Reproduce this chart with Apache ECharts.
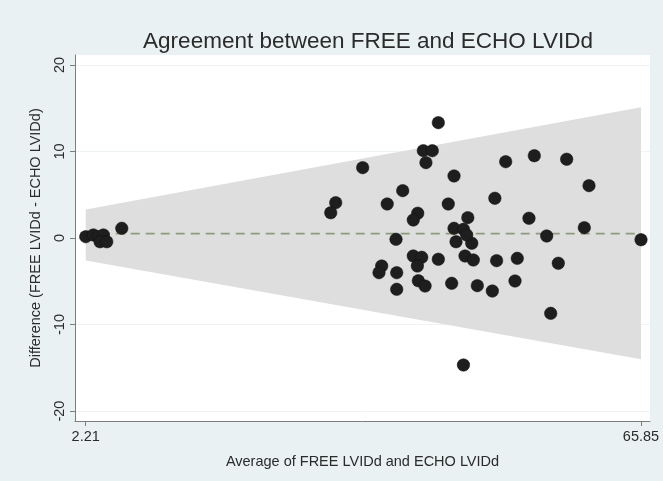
<!DOCTYPE html>
<html>
<head>
<meta charset="utf-8">
<script src="https://cdn.jsdelivr.net/npm/echarts@6/dist/echarts.min.js"></script>
<style>
  html, body { margin: 0; padding: 0; background: #e9f1f2; }
  #chart { width: 663px; height: 481px; }
</style>
</head>
<body>
<div id="chart"></div>
<script>
// Bland-Altman style agreement plot: FREE vs ECHO LVIDd

// Average of the two measurements (x) and their difference (y)
const avgValues = [
  2.21, 3.08, 3.65, 4.23, 3.85, 4.62, 6.34,
  42.62, 40.90, 41.93, 41.20, 33.95, 44.42, 38.54, 30.86, 30.29, 36.76, 43.76, 49.10,
  40.26, 39.75, 46.00, 44.42, 45.50, 37.77, 44.65, 46.45, 45.87,
  39.75, 40.72, 40.22, 42.62, 45.68, 46.63, 49.30, 36.13, 35.82, 37.85,
  40.33, 41.10, 37.85, 44.15, 47.09, 48.81, 45.50,
  50.34, 53.62, 57.33, 59.89, 53.01, 59.35, 55.04, 65.85, 51.67, 56.37, 51.41, 55.50
];
const diffValues = [
  0.15, 0.35, 0.15, 0.35, -0.43, -0.43, 1.12,
  13.33, 10.09, 10.09, 8.71, 8.13, 7.17, 5.47, 4.08, 2.92, 3.93, 3.93, 4.59,
  2.86, 2.08, 2.35, 1.12, 1.00, -0.15, -0.43, -0.61, 0.35,
  -2.08, -2.23, -3.24, -2.46, -2.08, -2.54, -2.62, -3.24, -4.01, -4.01,
  -4.94, -5.55, -5.93, -5.24, -5.51, -6.13, -14.68,
  8.82, 9.51, 9.10, 6.05, 2.28, 1.19, 0.23, -0.20, -2.35, -2.92, -4.97, -8.71
];

// Limits of agreement at the two ends of the measurement range
const limitX = [2.21, 65.85];
const upperLimit = [3.3, 15.1];
const lowerLimit = [-2.6, -14.0];
const meanDiff = 0.5;

// Axis ticks
const xTicks = [2.21, 65.85];
const yTicks = [-20, -10, 0, 10, 20];

const points = avgValues.map((x, i) => [x, diffValues[i]]);
const bandData = limitX.map((x, i) => [x, lowerLimit[i], upperLimit[i]]);
const meanLine = limitX.map(x => [x, meanDiff]);

const FONT = '"Liberation Sans", Arial, Helvetica, sans-serif';

const chart = echarts.init(document.getElementById('chart'), null, { renderer: 'canvas' });

chart.setOption({
  backgroundColor: '#e9f1f2',
  animation: false,
  title: {
    text: 'Agreement between FREE and ECHO LVIDd',
    left: 363,
    textAlign: 'center',
    top: 25,
    textStyle: { fontFamily: FONT, fontSize: 22.5, fontWeight: 'normal', color: '#2b2b2b' }
  },
  grid: {
    left: 75, right: 13, top: 55, bottom: 60,
    show: true, backgroundColor: '#ffffff', borderWidth: 0
  },
  xAxis: {
    type: 'value',
    min: 0.98, max: 66.88,
    name: 'Average of FREE LVIDd and ECHO LVIDd',
    nameLocation: 'middle',
    nameGap: 33,
    nameTextStyle: { fontFamily: FONT, fontSize: 14.5, color: '#2b2b2b' },
    axisLine: { show: true, onZero: false, lineStyle: { color: '#7d7d7d', width: 1 } },
    axisTick: { show: true, length: 5, customValues: xTicks, lineStyle: { color: '#7d7d7d' } },
    axisLabel: {
      customValues: xTicks,
      margin: 8,
      fontFamily: FONT, fontSize: 14.5, color: '#2b2b2b',
      formatter: v => v.toFixed(2)
    },
    splitLine: { show: false }
  },
  yAxis: {
    type: 'value',
    min: -21.15, max: 21.15,
    name: 'Difference (FREE LVIDd - ECHO LVIDd)',
    nameLocation: 'middle',
    nameGap: 32,
    nameTextStyle: { fontFamily: FONT, fontSize: 14.5, color: '#2b2b2b' },
    axisLine: { show: true, lineStyle: { color: '#7d7d7d', width: 1 } },
    axisTick: { show: true, length: 5, customValues: yTicks, lineStyle: { color: '#7d7d7d' } },
    axisLabel: {
      customValues: yTicks,
      rotate: 90,
      margin: 8,
      fontFamily: FONT, fontSize: 14.5, color: '#2b2b2b'
    },
    splitLine: { show: true, customValues: yTicks, lineStyle: { color: '#eef3f4', width: 1 } }
  },
  series: [
    {
      // shaded band between the limits of agreement
      type: 'custom',
      silent: true,
      z: 1,
      data: bandData,
      renderItem: function (params, api) {
        if (params.dataIndex !== 0) return null;
        const top = bandData.map(d => api.coord([d[0], d[2]]));
        const bottom = bandData.slice().reverse().map(d => api.coord([d[0], d[1]]));
        return {
          type: 'polygon',
          shape: { points: top.concat(bottom) },
          style: { fill: '#dedede', stroke: null }
        };
      }
    },
    {
      // mean difference
      type: 'line',
      z: 2,
      data: meanLine,
      symbol: 'none',
      lineStyle: { color: '#8d9a7e', width: 1.6, type: [9, 6] }
    },
    {
      type: 'scatter',
      z: 3,
      data: points,
      symbol: 'circle',
      symbolSize: 12.5,
      itemStyle: { color: '#1e1e1e', opacity: 1, borderColor: '#111', borderWidth: 0.5 }
    }
  ]
});
</script>
</body>
</html>
